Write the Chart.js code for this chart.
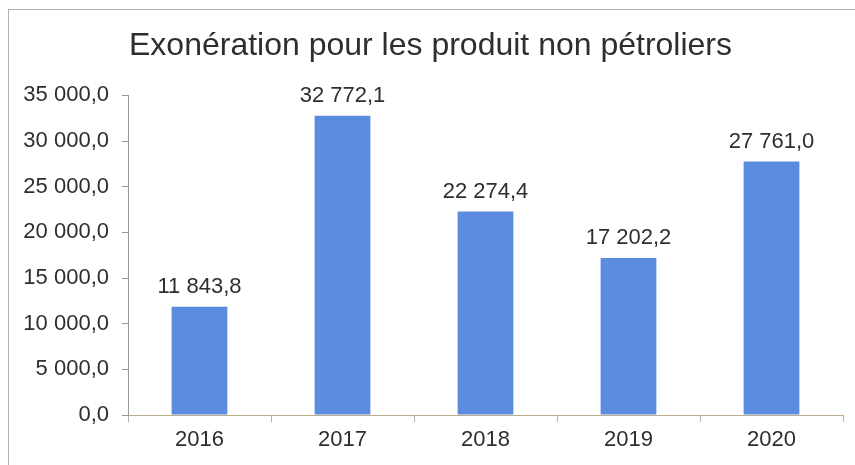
<!DOCTYPE html>
<html>
<head>
<meta charset="utf-8">
<script src="https://cdn.jsdelivr.net/npm/chart.js@4/dist/chart.umd.min.js"></script>
<style>
  body { margin: 0; background: #fff; }
  #wrap { width: 855px; height: 465px; position: relative; }
</style>
</head>
<body>
<div id="wrap"><canvas id="theChart"></canvas></div>
<script>
const years = ['2016', '2017', '2018', '2019', '2020'];
const exoneration = [11843.8, 32772.1, 22274.4, 17202.2, 27761.0];
const yTicks = [0, 5000, 10000, 15000, 20000, 25000, 30000, 35000];

const textColor = '#2e2e2e';
const fontName = '"Liberation Sans", Arial, sans-serif';

// 32 772,1 style
function fmt(v) {
  const parts = v.toFixed(1).split('.');
  return parts[0].replace(/\B(?=(\d{3})+(?!\d))/g, ' ') + ',' + parts[1];
}

const frame = {
  id: 'frame',
  beforeDraw(chart) {
    const ctx = chart.ctx;
    ctx.save();
    ctx.fillStyle = '#fff';
    ctx.fillRect(0, 0, chart.width, chart.height);
    ctx.strokeStyle = '#b4b4b4';
    ctx.lineWidth = 1;
    ctx.strokeRect(8.5, 9.5, 900, 500);
    ctx.restore();
  }
};

const barLabels = {
  id: 'barLabels',
  afterDatasetsDraw(chart) {
    const ctx = chart.ctx;
    const meta = chart.getDatasetMeta(0);
    ctx.save();
    ctx.fillStyle = textColor;
    ctx.font = '22px ' + fontName;
    ctx.textAlign = 'center';
    ctx.textBaseline = 'alphabetic';
    meta.data.forEach((bar, i) => {
      ctx.fillText(fmt(chart.data.datasets[0].data[i]), bar.x, bar.y - 14);
    });
    ctx.restore();
  }
};

const chart = document.getElementById('theChart').getContext('2d');
new Chart(chart, {
  type: 'bar',
  data: {
    labels: years,
    datasets: [{
      data: exoneration,
      backgroundColor: '#5b8ce0',
      barPercentage: 0.39,
      categoryPercentage: 1
    }]
  },
  options: {
    responsive: true,
    maintainAspectRatio: false,
    animation: false,
    layout: { padding: { left: 18, right: 12, top: 0, bottom: 0 } },
    plugins: {
      legend: { display: false },
      tooltip: { enabled: false },
      title: {
        display: true,
        text: 'Exonération pour les produit non pétroliers',
        color: textColor,
        font: { family: fontName, size: 32, weight: 'normal' },
        padding: { top: 27, bottom: 30 }
      }
    },
    scales: {
      x: {
        grid: { drawOnChartArea: false, tickLength: 7, color: '#a9b6c4', offset: true },
        border: { color: '#bcae8c' },
        ticks: { color: textColor, font: { family: fontName, size: 22 }, padding: 5 },
        afterFit(scale) { scale.height = 50; }
      },
      y: {
        min: 0,
        max: 35000,
        afterBuildTicks(scale) { scale.ticks = yTicks.map(v => ({ value: v })); },
        grid: { drawOnChartArea: false, tickLength: 6, color: '#9a9a9a' },
        border: { color: '#9a9a9a' },
        ticks: {
          color: textColor,
          font: { family: fontName, size: 22 },
          padding: 13,
          callback: v => fmt(v)
        },
        afterFit(scale) { scale.width = 110; }
      }
    }
  },
  plugins: [frame, barLabels]
});
</script>
</body>
</html>
